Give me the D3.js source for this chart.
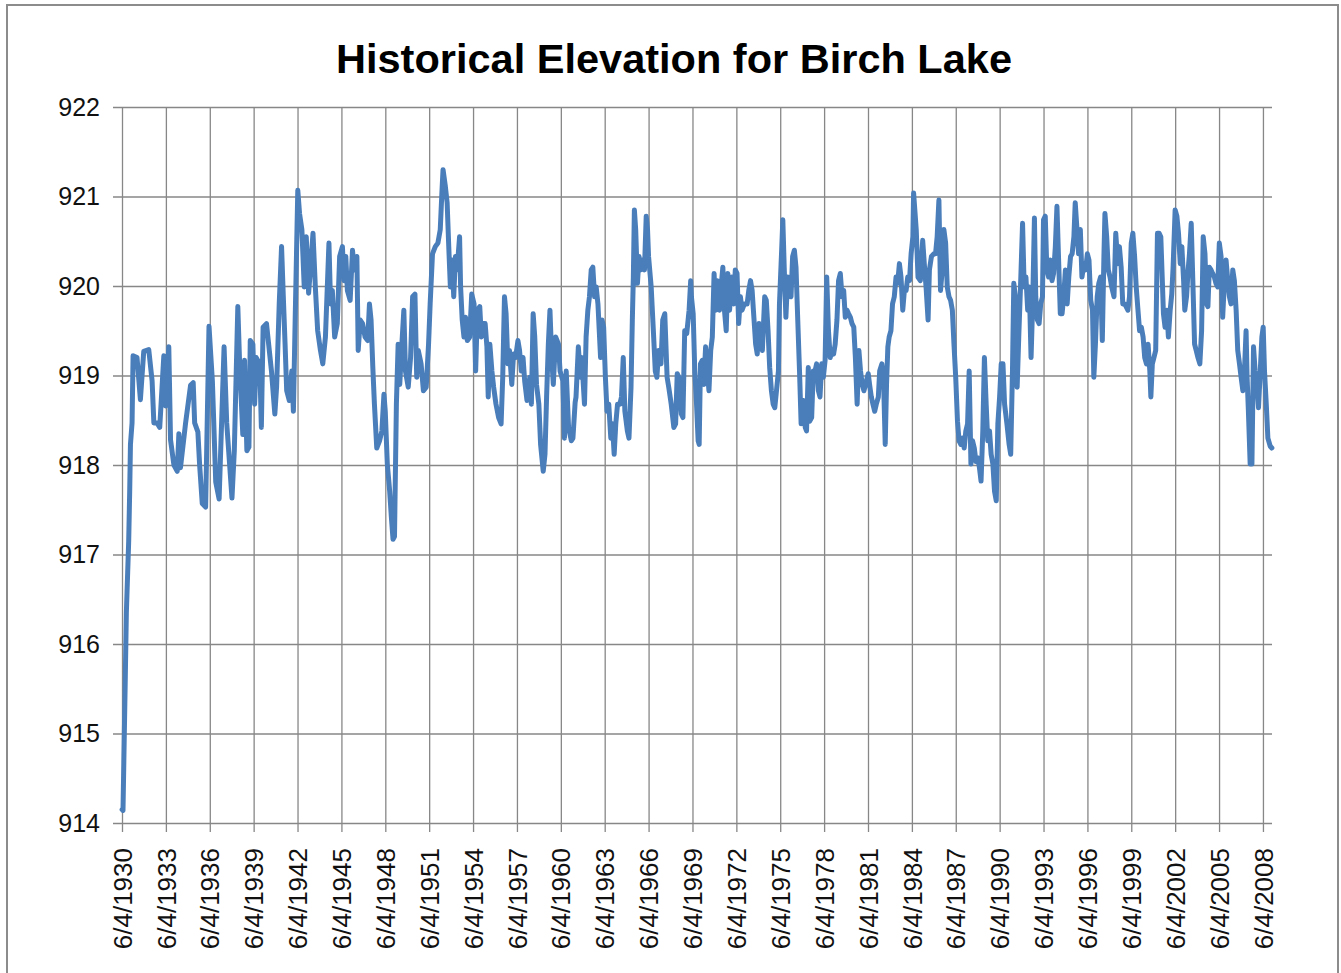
<!DOCTYPE html>
<html>
<head>
<meta charset="utf-8">
<script src="https://cdn.jsdelivr.net/npm/d3@7"></script>
<style>
  html, body { margin: 0; padding: 0; background: #fff; }
  svg { display: block; }
</style>
</head>
<body>
<svg id="chart" width="1341" height="973"></svg>
<script>
// ---------------- DATA ----------------
const chartTitle = "Historical Elevation for Birch Lake";
const tickLabels = ["6/4/1930","6/4/1933","6/4/1936","6/4/1939","6/4/1942","6/4/1945","6/4/1948",
  "6/4/1951","6/4/1954","6/4/1957","6/4/1960","6/4/1963","6/4/1966","6/4/1969","6/4/1972",
  "6/4/1975","6/4/1978","6/4/1981","6/4/1984","6/4/1987","6/4/1990","6/4/1993","6/4/1996",
  "6/4/1999","6/4/2002","6/4/2005","6/4/2008"];
const yTicks = [914, 915, 916, 917, 918, 919, 920, 921, 922];
const yDomain = [914, 922];
const xDomain = ["6/4/1930", "1/16/2009"];

// decimal year of each reading
const years = [
1930.43,1930.49,1930.65,1930.72,1930.88,1930.95,1931.0,1931.11,1931.18,1931.45,1931.68,1931.91,1932.25,1932.48,1932.6,1932.82,1933.0,1933.28,1933.4,1933.62,1933.74,1933.97,1934.2,1934.31,1934.42,1934.77,1935.11,1935.29,1935.39,1935.61,1935.73,1935.91,1936.14,1936.37,1936.6,1936.83,1937.06,1937.4,1937.58,
1937.94,1938.1,1938.34,1938.45,1938.68,1938.8,1938.96,1939.1,1939.19,1939.37,1939.49,1939.6,1939.84,1939.95,1940.07,1940.3,1940.64,1940.87,1940.99,1941.17,1941.33,1941.45,1941.57,1941.68,1941.86,1942.03,1942.14,1942.26,1942.44,1942.56,1942.72,1942.88,1943.02,1943.18,1943.3,1943.48,1943.64,1943.8,1943.99,1944.15,1944.33,1944.57,1944.68,1944.8,1944.96,1945.14,1945.3,1945.49,1945.6,1945.72,1945.83,1946.02,
1946.18,1946.3,1946.48,1946.57,1946.71,1946.87,1947.04,1947.22,1947.34,1947.45,1947.57,1947.68,1947.84,1948.03,1948.19,1948.33,1948.42,1948.56,1948.72,1948.84,1948.95,1949.05,1949.18,1949.3,1949.41,1949.53,1949.69,1949.8,1949.99,1950.15,1950.29,1950.45,1950.57,1950.68,1950.87,1951.03,1951.22,1951.38,1951.49,1951.65,1951.84,1952.02,1952.18,1952.3,1952.37,1952.53,1952.65,1952.76,1952.87,1952.99,1953.1,1953.22,1953.33,1953.5,
1953.57,1953.68,1953.8,1953.91,1954.03,1954.19,1954.33,1954.49,1954.6,1954.72,1954.88,1954.99,1955.11,1955.25,1955.37,1955.46,1955.57,1955.71,1955.83,1955.99,1956.17,1956.34,1956.45,1956.57,1956.68,1956.8,1956.91,1957.07,1957.19,1957.33,1957.49,1957.6,1957.72,1957.84,1957.95,1958.11,1958.3,1958.41,1958.53,1958.64,1958.76,1958.92,1959.04,1959.22,1959.34,1959.45,1959.57,1959.68,1959.8,1959.91,1960.07,1960.26,1960.37,1960.56,1960.67,1960.79,1960.95,1961.14,1961.25,1961.4,
1961.46,1961.62,1961.76,1961.85,1962.04,1962.15,1962.27,1962.38,1962.5,1962.61,1962.73,1962.84,1962.96,1963.14,1963.24,1963.35,1963.47,1963.58,1963.7,1963.84,1963.95,1964.07,1964.18,1964.3,1964.46,1964.57,1964.69,1964.8,1964.97,1965.08,1965.22,1965.31,1965.38,1965.45,1965.54,1965.66,1965.77,1965.89,1966.0,1966.14,1966.26,1966.35,1966.42,1966.6,1966.77,1966.88,1966.99,1967.11,1967.27,1967.39,1967.53,1967.69,1967.8,1967.97,1968.15,1968.27,1968.38,1968.5,1968.66,1968.77,1968.89,1969.03,1969.19,1969.3,
1969.35,1969.47,1969.58,1969.7,1969.81,1969.88,1969.97,1970.09,1970.2,1970.32,1970.44,1970.55,1970.67,1970.78,1970.9,1971.01,1971.13,1971.27,1971.38,1971.5,1971.61,1971.73,1971.84,1971.96,1972.12,1972.24,1972.35,1972.47,1972.58,1972.7,1972.81,1972.97,1973.16,1973.27,1973.39,1973.5,1973.62,1973.74,1973.85,1973.97,1974.08,1974.2,1974.36,1974.47,1974.59,1974.7,1974.82,1974.94,1975.05,1975.19,1975.3,1975.37,1975.51,1975.6,1975.7,1975.81,1975.93,1976.04,1976.16,1976.27,1976.39,1976.5,1976.62,1976.74,1976.85,1977.01,1977.13,
1977.22,1977.34,1977.43,1977.57,1977.68,1977.8,1977.91,1978.03,1978.14,1978.26,1978.37,1978.49,1978.6,1978.72,1978.84,1978.95,1979.07,1979.18,1979.3,1979.41,1979.53,1979.65,1979.76,1979.87,1979.99,1980.1,1980.22,1980.33,1980.45,1980.56,1980.68,1980.8,1980.91,1981.03,1981.14,1981.26,1981.37,1981.44,1981.53,1981.65,1981.76,1981.88,1981.99,1982.13,1982.22,1982.37,1982.48,1982.6,1982.69,1982.78,1982.87,1982.99,1983.1,1983.22,1983.34,1983.45,1983.57,1983.68,1983.8,1983.91,1984.03,1984.14,1984.26,1984.37,1984.49,1984.54,1984.72,1984.84,
1985.0,1985.16,1985.3,1985.39,1985.53,1985.62,1985.76,1985.92,1986.04,1986.15,1986.27,1986.38,1986.5,1986.61,1986.73,1986.84,1986.96,1987.07,1987.19,1987.3,1987.42,1987.54,1987.65,1987.77,1987.88,1988.0,1988.11,1988.23,1988.34,1988.46,1988.57,1988.69,1988.8,1988.92,1989.04,1989.15,1989.27,1989.38,1989.5,1989.61,1989.73,1989.84,1989.96,1990.07,1990.19,1990.3,1990.42,1990.53,1990.65,1990.76,1990.92,1991.07,1991.18,1991.3,1991.39,1991.5,1991.62,1991.73,1991.85,1991.99,1992.1,1992.22,1992.34,1992.45,1992.57,1992.68,1992.8,
1992.89,1993.0,1993.12,1993.23,1993.35,1993.42,1993.54,1993.65,1993.77,1993.88,1994.0,1994.11,1994.23,1994.34,1994.44,1994.57,1994.69,1994.8,1994.92,1995.04,1995.15,1995.27,1995.38,1995.5,1995.59,1995.7,1995.82,1995.94,1996.05,1996.19,1996.3,1996.42,1996.53,1996.65,1996.77,1996.86,1996.97,1997.09,1997.2,1997.32,1997.44,1997.55,1997.62,1997.74,1997.85,1997.97,1998.08,1998.24,1998.36,1998.5,1998.61,1998.73,1998.84,1998.96,1999.07,1999.19,1999.3,1999.42,1999.53,1999.65,1999.76,1999.88,1999.99,2000.11,2000.23,2000.34,2000.46,2000.57,2000.69,2000.76,2000.86,2000.97,
2001.09,2001.21,2001.32,2001.44,2001.55,2001.62,2001.73,2001.85,2001.96,2002.08,2002.19,2002.28,2002.42,2002.54,2002.65,2002.77,2002.88,2003.0,2003.08,2003.2,2003.31,2003.4,2003.52,2003.63,2003.75,2003.86,2003.98,2004.11,2004.23,2004.34,2004.46,2004.57,2004.66,2004.76,2004.87,2004.98,2005.1,2005.21,2005.33,2005.44,2005.56,2005.67,2005.79,2005.9,2006.02,2006.13,2006.24,2006.36,2006.47,2006.59,2006.7,2006.82,2006.93,2007.05,2007.16,2007.27,2007.34,2007.43,2007.55,2007.67,2007.78,2007.89,2008.01,2008.12,2008.24,2008.35,2008.44,2008.53,2008.65,2008.76,2008.92,2009.03
];

// lake elevation (ft) for each reading
const elevations = [
914.15,914.14,915.65,916.35,917.15,917.72,918.23,918.47,919.22,919.2,918.73,919.27,919.29,918.94,918.47,918.47,918.42,919.22,918.66,919.32,918.28,918.0,917.93,918.35,917.97,918.47,918.89,918.92,918.47,918.37,918.0,917.57,917.53,919.55,918.94,917.81,917.62,919.32,918.47,
917.63,918.16,919.77,919.2,918.34,919.17,918.16,918.2,919.39,919.35,918.68,919.2,919.13,918.42,919.54,919.58,919.05,918.57,918.87,919.8,920.44,919.88,919.35,918.83,918.72,919.05,918.6,919.62,921.07,920.81,920.63,919.99,920.55,919.92,920.18,920.59,919.99,919.5,919.28,919.13,919.43,920.48,919.8,919.95,919.43,919.58,920.33,920.44,920.06,920.33,919.95,919.84,
920.4,920.18,920.33,919.28,919.62,919.58,919.43,919.39,919.8,919.62,919.09,918.68,918.19,918.27,918.38,918.79,918.6,918.01,917.71,917.41,917.17,917.2,918.68,919.35,918.9,919.28,919.73,919.05,918.87,919.2,919.88,919.91,918.98,919.28,919.13,918.83,918.87,919.35,919.8,920.36,920.44,920.48,920.63,921.07,921.3,921.11,920.93,920.44,919.99,920.29,919.88,920.33,920.18,920.55,
919.99,919.62,919.43,919.65,919.39,919.43,919.91,919.8,919.05,919.73,919.77,919.43,919.58,919.58,919.32,918.76,919.35,919.05,918.87,918.68,918.53,918.46,918.98,919.88,919.69,919.13,919.28,918.9,919.24,919.2,919.39,919.28,919.05,919.2,918.94,918.72,918.98,918.68,919.69,919.43,918.9,918.68,918.23,917.93,918.12,918.76,919.35,919.73,919.2,918.9,919.43,919.35,919.05,918.94,918.3,919.05,918.42,918.27,918.3,918.7,
918.76,919.32,918.98,919.2,918.68,919.43,919.73,919.88,920.18,920.21,919.88,919.99,919.8,919.2,919.62,919.54,918.98,918.6,918.68,918.3,918.46,918.12,918.46,918.68,918.68,918.76,919.2,918.6,918.38,918.3,918.87,919.62,920.1,920.85,920.63,920.03,920.33,920.18,920.29,920.18,920.78,920.63,920.33,919.99,919.43,919.05,918.98,919.28,919.13,919.62,919.69,918.98,918.87,918.68,918.42,918.46,919.02,918.98,918.57,918.53,919.5,919.47,919.73,920.06,
919.88,919.69,919.05,918.68,918.27,918.23,919.13,919.17,918.9,919.32,919.05,918.83,919.28,919.43,920.14,919.73,920.06,919.73,919.99,920.21,919.73,919.5,920.14,919.73,920.1,919.8,920.18,920.14,919.58,919.88,919.73,919.8,919.8,919.95,920.06,919.95,919.65,919.35,919.24,919.58,919.43,919.28,919.88,919.84,919.5,919.09,918.83,918.68,918.64,918.87,919.05,919.8,920.36,920.74,920.18,919.65,920.1,919.95,919.88,920.33,920.4,920.21,919.62,919.05,918.46,918.72,918.42,
918.38,919.09,918.49,918.53,919.05,919.05,919.13,918.83,918.76,919.13,918.98,919.17,920.1,919.5,919.2,919.28,919.24,919.35,919.62,920.06,920.14,919.88,919.95,919.65,919.73,919.69,919.65,919.58,919.54,919.2,918.68,919.28,919.05,918.9,918.83,918.9,918.98,919.02,918.9,918.76,918.68,918.6,918.68,918.76,919.05,919.13,918.98,918.23,918.9,919.32,919.43,919.5,919.8,919.88,920.1,920.03,920.25,920.1,919.73,919.95,919.95,920.1,920.06,920.36,920.55,921.04,920.63,920.1,
920.06,920.51,920.18,919.99,919.62,920.18,920.33,920.36,920.36,920.55,920.96,919.95,920.18,920.63,920.48,919.99,919.88,919.84,919.73,919.35,918.98,918.49,918.27,918.23,918.3,918.19,918.38,918.46,919.05,918.01,918.27,918.19,918.04,918.08,917.97,917.82,918.38,919.2,918.68,918.27,918.38,918.12,918.01,917.71,917.6,918.46,918.76,919.13,919.13,918.68,918.46,918.23,918.12,919.05,920.03,919.88,918.87,919.43,919.99,920.7,919.99,920.1,919.73,919.99,919.2,919.8,920.76,
919.88,919.62,919.58,919.8,919.88,920.74,920.78,920.18,920.1,920.29,920.06,920.14,920.44,920.89,920.36,919.69,919.69,919.88,920.18,919.8,920.1,920.33,920.36,920.55,920.93,920.66,920.36,920.63,920.1,920.25,920.18,920.36,920.29,919.84,919.73,918.98,919.35,919.88,920.03,920.1,919.39,920.33,920.81,920.55,920.18,920.1,919.99,919.88,920.59,920.25,920.44,920.21,919.8,919.8,919.77,919.73,919.88,920.48,920.59,920.33,919.99,919.73,919.5,919.54,919.43,919.2,919.13,919.35,919.05,918.76,919.13,919.2,
919.28,920.59,920.59,920.55,920.03,919.69,919.54,919.73,919.43,919.73,919.91,920.21,920.85,920.78,920.59,920.25,920.44,920.06,919.73,919.88,920.18,920.36,920.7,920.06,919.35,919.28,919.2,919.13,919.5,920.55,920.36,919.8,919.77,920.21,920.18,920.14,920.1,920.03,919.99,920.48,920.33,919.65,920.06,920.29,920.06,919.88,919.8,920.18,920.06,919.73,919.28,919.13,918.98,918.83,919.05,919.5,918.98,918.6,918.01,918.01,919.32,919.05,918.9,918.64,919.05,919.43,919.54,919.05,918.68,918.3,918.21,918.19
];

// ---------------- CHART ----------------
const W = 1341, H = 973;
const plot = { left: 122, right: 1272, top: 107, bottom: 823 };
const parseDate = d3.timeParse("%m/%d/%Y");
const decToDate = y => {
  const yr = Math.floor(y);
  const a = new Date(yr, 0, 1), b = new Date(yr + 1, 0, 1);
  return new Date(+a + (y - yr) * (b - a));
};

const svg = d3.select("#chart");
svg.append("rect").attr("x", 0).attr("y", 0).attr("width", W).attr("height", H).attr("fill", "#fff");
// chart frame
svg.append("rect").attr("x", 7).attr("y", 5).attr("width", 1331).attr("height", 990)
  .attr("fill", "none").attr("stroke", "#8c8c8c").attr("stroke-width", 2);

const x = d3.scaleTime().domain(xDomain.map(parseDate)).range([plot.left, plot.right]);
const y = d3.scaleLinear().domain(yDomain).range([plot.bottom, plot.top]);

const gridColor = "#878787";
const fontFam = "'Liberation Sans', Arial, sans-serif";

// horizontal grid + left ticks
const yAxis = d3.axisLeft(y).tickValues(yTicks).tickSize(-(plot.right - plot.left)).tickPadding(22).tickFormat(d3.format("d"));
const gy = svg.append("g").attr("transform", `translate(${plot.left},0)`).call(yAxis);
gy.select(".domain").remove();
gy.selectAll(".tick line").attr("stroke", gridColor).attr("stroke-width", 1.3).attr("x1", -9);
gy.selectAll(".tick text").attr("font-family", fontFam).attr("font-size", 25).attr("fill", "#111");

// vertical grid + bottom ticks
const tickDates = tickLabels.map(parseDate);
const xAxis = d3.axisBottom(x).tickValues(tickDates).tickSize(-(plot.bottom - plot.top))
  .tickFormat((d, i) => tickLabels[i]);
const gx = svg.append("g").attr("transform", `translate(0,${plot.bottom})`).call(xAxis);
gx.select(".domain").remove();
gx.selectAll(".tick line").attr("stroke", gridColor).attr("stroke-width", 1.3).attr("y1", 9);
gx.selectAll(".tick text")
  .attr("font-family", fontFam).attr("font-size", 26).attr("fill", "#111")
  .attr("text-anchor", "end")
  .attr("transform", "translate(0,25) rotate(-90)")
  .attr("x", 0).attr("y", 0).attr("dy", "0.35em");

// series
const pts = years.map((yr, i) => [decToDate(yr), elevations[i]]);
const line = d3.line().x(d => x(d[0])).y(d => y(d[1]));
svg.append("path").datum(pts).attr("d", line)
  .attr("fill", "none").attr("stroke", "#4A7EBB").attr("stroke-width", 5)
  .attr("stroke-linejoin", "round").attr("stroke-linecap", "round");

// title
svg.append("text").attr("x", 674).attr("y", 73).attr("text-anchor", "middle")
  .attr("font-family", fontFam).attr("font-weight", "bold").attr("font-size", 41)
  .attr("textLength", 676).attr("lengthAdjust", "spacingAndGlyphs")
  .attr("fill", "#000").text(chartTitle);
</script>
</body>
</html>
